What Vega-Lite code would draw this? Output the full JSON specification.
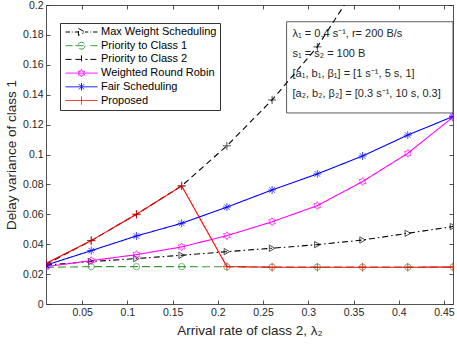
{
  "$schema": "https://vega.github.io/schema/vega-lite/v6.json",
  "width": 407,
  "height": 299,
  "autosize": {"type": "none"},
  "padding": {"left": 46, "top": 5, "right": 4, "bottom": 42},
  "background": "white",
  "config": {
    "view": {"stroke": null},
    "font": "Liberation Sans",
    "axis": {
      "grid": false,
      "domainColor": "#262626",
      "tickColor": "#262626",
      "labelColor": "#262626",
      "titleColor": "#262626",
      "labelFontSize": 10.5,
      "titleFontSize": 13.5,
      "titleFontWeight": "normal",
      "tickSize": -4,
      "domainWidth": 0.8,
      "tickWidth": 0.8
    }
  },
  "data": {
    "values": [
      {"s": "Max Weight Scheduling", "x": 0.01, "y": 0.026},
      {"s": "Max Weight Scheduling", "x": 0.06, "y": 0.0284},
      {"s": "Max Weight Scheduling", "x": 0.11, "y": 0.0304},
      {"s": "Max Weight Scheduling", "x": 0.16, "y": 0.0326},
      {"s": "Max Weight Scheduling", "x": 0.21, "y": 0.035},
      {"s": "Max Weight Scheduling", "x": 0.26, "y": 0.0373},
      {"s": "Max Weight Scheduling", "x": 0.31, "y": 0.0397},
      {"s": "Max Weight Scheduling", "x": 0.36, "y": 0.0428},
      {"s": "Max Weight Scheduling", "x": 0.41, "y": 0.0473},
      {"s": "Max Weight Scheduling", "x": 0.46, "y": 0.0518},
      {"s": "Priority to Class 1", "x": 0.01, "y": 0.0245},
      {"s": "Priority to Class 1", "x": 0.06, "y": 0.025},
      {"s": "Priority to Class 1", "x": 0.11, "y": 0.025},
      {"s": "Priority to Class 1", "x": 0.16, "y": 0.025},
      {"s": "Priority to Class 1", "x": 0.21, "y": 0.0249},
      {"s": "Priority to Class 1", "x": 0.26, "y": 0.0247},
      {"s": "Priority to Class 1", "x": 0.31, "y": 0.0247},
      {"s": "Priority to Class 1", "x": 0.36, "y": 0.0247},
      {"s": "Priority to Class 1", "x": 0.41, "y": 0.0247},
      {"s": "Priority to Class 1", "x": 0.46, "y": 0.0248},
      {"s": "Priority to Class 2", "x": 0.01, "y": 0.0265},
      {"s": "Priority to Class 2", "x": 0.06, "y": 0.0424},
      {"s": "Priority to Class 2", "x": 0.11, "y": 0.06},
      {"s": "Priority to Class 2", "x": 0.16, "y": 0.079},
      {"s": "Priority to Class 2", "x": 0.21, "y": 0.1058},
      {"s": "Priority to Class 2", "x": 0.26, "y": 0.1365},
      {"s": "Priority to Class 2", "x": 0.31, "y": 0.172},
      {"s": "Priority to Class 2", "x": 0.36, "y": 0.219},
      {"s": "Priority to Class 2", "x": 0.41, "y": 0.28},
      {"s": "Priority to Class 2", "x": 0.46, "y": 0.35},
      {"s": "Weighted Round Robin", "x": 0.01, "y": 0.025},
      {"s": "Weighted Round Robin", "x": 0.06, "y": 0.029},
      {"s": "Weighted Round Robin", "x": 0.11, "y": 0.033},
      {"s": "Weighted Round Robin", "x": 0.16, "y": 0.0382},
      {"s": "Weighted Round Robin", "x": 0.21, "y": 0.0457},
      {"s": "Weighted Round Robin", "x": 0.26, "y": 0.055},
      {"s": "Weighted Round Robin", "x": 0.31, "y": 0.0658},
      {"s": "Weighted Round Robin", "x": 0.36, "y": 0.0819},
      {"s": "Weighted Round Robin", "x": 0.41, "y": 0.1008},
      {"s": "Weighted Round Robin", "x": 0.46, "y": 0.125},
      {"s": "Fair Scheduling", "x": 0.01, "y": 0.026},
      {"s": "Fair Scheduling", "x": 0.06, "y": 0.0357},
      {"s": "Fair Scheduling", "x": 0.11, "y": 0.0455},
      {"s": "Fair Scheduling", "x": 0.16, "y": 0.054},
      {"s": "Fair Scheduling", "x": 0.21, "y": 0.0648},
      {"s": "Fair Scheduling", "x": 0.26, "y": 0.0763},
      {"s": "Fair Scheduling", "x": 0.31, "y": 0.087},
      {"s": "Fair Scheduling", "x": 0.36, "y": 0.099},
      {"s": "Fair Scheduling", "x": 0.41, "y": 0.113},
      {"s": "Fair Scheduling", "x": 0.46, "y": 0.1254},
      {"s": "Proposed", "x": 0.01, "y": 0.0272},
      {"s": "Proposed", "x": 0.06, "y": 0.0424},
      {"s": "Proposed", "x": 0.11, "y": 0.06},
      {"s": "Proposed", "x": 0.16, "y": 0.079},
      {"s": "Proposed", "x": 0.21, "y": 0.025},
      {"s": "Proposed", "x": 0.26, "y": 0.0246},
      {"s": "Proposed", "x": 0.31, "y": 0.0246},
      {"s": "Proposed", "x": 0.36, "y": 0.0246},
      {"s": "Proposed", "x": 0.41, "y": 0.0246},
      {"s": "Proposed", "x": 0.46, "y": 0.0247}
    ]
  },
  "layer": [
    {
      "data": {"values": [{}]},
      "mark": {"type": "rect", "fill": "white", "stroke": "#333333", "strokeWidth": 0.8},
      "encoding": {
        "x": {"datum": 0.276, "type": "quantitative", "axis": null, "scale": {"domain": [0.01, 0.46], "nice": false}},
        "x2": {"datum": 0.46},
        "y": {"datum": 0.1888, "type": "quantitative", "axis": null, "scale": {"domain": [0, 0.2], "nice": false}},
        "y2": {"datum": 0.1278}
      }
    },
    {
      "data": {"values": [{}]},
      "mark": {
        "type": "text", "align": "left", "baseline": "top", "fontSize": 11, "lineHeight": 19.8, "color": "#262626",
        "text": ["λ₁ = 0.4 s⁻¹, r= 200 B/s", "s₁ = s₂ = 100 B", "[a₁, b₁, β₁] = [1 s⁻¹, 5 s, 1]", "[a₂, b₂, β₂] = [0.3 s⁻¹, 10 s, 0.3]"]
      },
      "encoding": {
        "x": {"datum": 0.2826, "type": "quantitative", "axis": null, "scale": {"domain": [0.01, 0.46], "nice": false}},
        "y": {"datum": 0.1845, "type": "quantitative", "axis": null, "scale": {"domain": [0, 0.2], "nice": false}}
      }
    },
    {
      "mark": {"type": "line", "strokeWidth": 1.1, "clip": true},
      "encoding": {
        "x": {
          "field": "x", "type": "quantitative",
          "scale": {"domain": [0.01, 0.46], "nice": false},
          "axis": {"orient": "bottom", "values": [0.05, 0.1, 0.15, 0.2, 0.25, 0.3, 0.35, 0.4, 0.45], "format": "~g", "labelPadding": 7, "title": "Arrival rate of class 2, λ₂", "titlePadding": 6}
        },
        "y": {
          "field": "y", "type": "quantitative",
          "scale": {"domain": [0, 0.2], "nice": false},
          "axis": {"orient": "left", "values": [0, 0.02, 0.04, 0.06, 0.08, 0.1, 0.12, 0.14, 0.16, 0.18, 0.2], "format": "~g", "labelPadding": 7, "title": "Delay variance of class 1", "titlePadding": 4}
        },
        "color": {
          "field": "s", "type": "nominal",
          "scale": {
            "domain": ["Max Weight Scheduling", "Priority to Class 1", "Priority to Class 2", "Weighted Round Robin", "Fair Scheduling", "Proposed"],
            "range": ["#000000", "#3a9a3a", "#000000", "#ff00ff", "#0000ff", "#ff0000"]
          },
          "legend": {
            "orient": "none", "legendX": 14, "legendY": 18, "title": null,
            "padding": 3, "strokeColor": "#333333", "fillColor": "white",
            "labelFontSize": 11, "labelColor": "#000000",
            "symbolSize": 1024, "clipHeight": 12, "rowPadding": 1.7, "symbolOffset": 2, "labelOffset": 3,
            "symbolStrokeWidth": 1, "symbolType": "circle", "symbolDash": [],
            "encode": {
              "symbols": {
                "update": {
                  "shape": {"signal": "datum.value === 'Max Weight Scheduling' ? 'M-1,0L-0.72,0M-0.6,0L-0.55,0M-0.42,0L-0.19,0M-0.19,-0.22L0.22,0L-0.19,0.22L-0.19,-0.22M0.22,0L0.42,0M0.55,0L0.6,0M0.72,0L1,0' : datum.value === 'Priority to Class 1' ? 'M-1,0L-0.55,0M-0.38,0L0.38,0M0.55,0L1,0M0.22,0L0.19,0.11L0.11,0.19L0,0.22L-0.11,0.19L-0.19,0.11L-0.22,0L-0.19,-0.11L-0.11,-0.19L0,-0.22L0.11,-0.19L0.19,-0.11L0.22,0' : datum.value === 'Priority to Class 2' ? 'M-1,0L-0.55,0M-0.38,0L0.38,0M0.55,0L1,0M0,-0.25L0,0.25' : datum.value === 'Weighted Round Robin' ? 'M-1,0L1,0M0,-0.23L0.067,-0.115L0.2,-0.115L0.133,0L0.2,0.115L0.067,0.115L0,0.23L-0.067,0.115L-0.2,0.115L-0.133,0L-0.2,-0.115L-0.067,-0.115L0,-0.23' : datum.value === 'Fair Scheduling' ? 'M-1,0L1,0M0,-0.23L0,0.23M-0.16,-0.16L0.16,0.16M-0.16,0.16L0.16,-0.16' : 'M-1,0L1,0M0,-0.25L0,0.25'"},
                  "fill": {"value": "transparent"},
                  "stroke": {"scale": "color", "field": "value"},
                  "strokeDash": {"value": []},
                  "opacity": {"value": 1}
                }
              }
            }
          }
        },
        "strokeDash": {
          "field": "s", "type": "nominal", "legend": null,
          "scale": {
            "domain": ["Max Weight Scheduling", "Priority to Class 1", "Priority to Class 2", "Weighted Round Robin", "Fair Scheduling", "Proposed"],
            "range": [[6, 3, 1.5, 3], [8, 4], [6, 4], [1, 0], [1, 0], [1, 0]]
          }
        }
      }
    },
    {
      "encoding": {
        "x": {"field": "x", "type": "quantitative", "axis": null, "scale": {"domain": [0.01, 0.46], "nice": false}},
        "y": {"field": "y", "type": "quantitative", "axis": null, "scale": {"domain": [0, 0.2], "nice": false}},
        "stroke": {
          "field": "s", "type": "nominal", "legend": null,
          "scale": {
            "domain": ["Max Weight Scheduling", "Priority to Class 1", "Priority to Class 2", "Weighted Round Robin", "Fair Scheduling", "Proposed"],
            "range": ["#000000", "#3a9a3a", "#000000", "#ff00ff", "#0000ff", "#ff0000"]
          }
        }
      },
      "layer": [
        {"transform": [{"filter": "datum.s === 'Max Weight Scheduling'"}], "mark": {"type": "point", "shape": "triangle-right", "filled": false, "size": 40, "strokeWidth": 1, "clip": true}},
        {"transform": [{"filter": "datum.s === 'Priority to Class 1'"}], "mark": {"type": "point", "shape": "circle", "filled": false, "size": 40, "strokeWidth": 1, "clip": true}},
        {"transform": [{"filter": "datum.s === 'Priority to Class 2'"}], "mark": {"type": "point", "shape": "M-1,0L1,0M0,-1L0,1", "filled": false, "size": 64, "strokeWidth": 1, "clip": true}},
        {"transform": [{"filter": "datum.s === 'Weighted Round Robin'"}], "mark": {"type": "point", "shape": "M0,-1L0.289,-0.5L0.866,-0.5L0.577,0L0.866,0.5L0.289,0.5L0,1L-0.289,0.5L-0.866,0.5L-0.577,0L-0.866,-0.5L-0.289,-0.5Z", "filled": false, "size": 64, "strokeWidth": 1, "clip": true}},
        {"transform": [{"filter": "datum.s === 'Fair Scheduling'"}], "mark": {"type": "point", "shape": "M-1,0L1,0M0,-1L0,1M-0.7,-0.7L0.7,0.7M-0.7,0.7L0.7,-0.7", "filled": false, "size": 64, "strokeWidth": 1, "clip": true}},
        {"transform": [{"filter": "datum.s === 'Proposed'"}], "mark": {"type": "point", "shape": "M-1,0L1,0M0,-1L0,1", "filled": false, "size": 72, "strokeWidth": 1, "clip": true}}
      ]
    },
    {
      "mark": {"type": "point", "opacity": 0, "clip": true},
      "encoding": {
        "x": {
          "field": "x", "type": "quantitative", "scale": {"domain": [0.01, 0.46], "nice": false},
          "axis": {"orient": "top", "labels": false, "title": null, "values": [0.05, 0.1, 0.15, 0.2, 0.25, 0.3, 0.35, 0.4, 0.45]}
        },
        "y": {
          "field": "y", "type": "quantitative", "scale": {"domain": [0, 0.2], "nice": false},
          "axis": {"orient": "right", "labels": false, "title": null, "values": [0, 0.02, 0.04, 0.06, 0.08, 0.1, 0.12, 0.14, 0.16, 0.18, 0.2]}
        }
      }
    }
  ],
  "resolve": {"axis": {"x": "independent", "y": "independent"}}
}
